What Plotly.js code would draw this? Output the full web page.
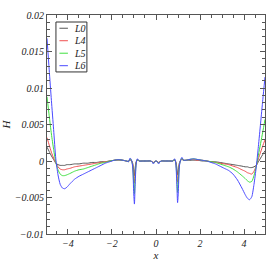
<!DOCTYPE html>
<html>
<head>
<meta charset="utf-8">
<script src="https://cdn.plot.ly/plotly-3.0.1.min.js"></script>
<style>html,body{margin:0;padding:0;background:#fff;}#chart{width:279px;height:267px;}</style>
</head>
<body>
<div id="chart"></div>
<script>
const xs = [-4.95,-4.85,-4.75,-4.65,-4.55,-4.45,-4.35,-4.25,-4.15,-4.05,-3.9,-3.7,-3.5,-3.3,-3.1,-2.9,-2.7,-2.5,-2.3,-2.1,
  -1.9,-1.7,-1.5,-1.35,-1.25,-1.18,-1.12,-1.06,-1.01,-0.98,-0.95,-0.9,-0.85,-0.75,-0.6,-0.4,-0.25,-0.18,-0.12,-0.06,0,
  0.06,0.12,0.18,0.25,0.4,0.6,0.75,0.85,0.9,0.95,0.98,1.01,1.06,1.12,1.18,1.25,1.35,1.5,1.7,1.9,
  2.1,2.3,2.5,2.7,2.9,3.1,3.3,3.5,3.7,3.9,4.05,4.15,4.25,4.35,4.45,4.55,4.65,4.75,4.85,4.95];

const L0 = [0.0019,0.0013,0.0007,0.0002,-0.0003,-0.0005,-0.0006,-0.0006,-0.0006,-0.0005,-0.0005,-0.0004,-0.0004,-0.0003,-0.0003,-0.0002,-0.0002,-0.0001,-0.0001,0,
  0.0001,0.0001,0.0001,0,0,0.0001,0.0001,-0.0003,-0.0014,-0.0020,-0.0010,-0.0001,0.0001,0,0,0,0,-0.0001,-0.0002,-0.0001,0,
  -0.0001,-0.0002,-0.0001,0,0,0,0,0.0001,-0.0001,-0.0010,-0.0019,-0.0014,-0.0003,0.0001,0.0002,0.0001,0.0001,0.0001,0.0001,0.0001,
  0,0,-0.0001,-0.0001,-0.0002,-0.0003,-0.0004,-0.0005,-0.0006,-0.0007,-0.0008,-0.0008,-0.0009,-0.0009,-0.0008,-0.0006,-0.0001,0.0004,0.0009,0.0014];

const L4 = [0.0032,0.0022,0.0012,0.0004,-0.0003,-0.0008,-0.0011,-0.0012,-0.0012,-0.0011,-0.0010,-0.0008,-0.0007,-0.0006,-0.0005,-0.0004,-0.0003,-0.0002,-0.0001,0,
  0.0001,0.0002,0.0001,0,-0.0001,0.0002,0.0001,-0.0004,-0.0022,-0.0030,-0.0016,-0.0002,0.0002,0,0,0,0,-0.0001,-0.0002,-0.0001,0,
  -0.0001,-0.0002,-0.0001,0,0,0,0,0.0002,-0.0002,-0.0016,-0.0029,-0.0022,-0.0004,0.0001,0.0003,0.0001,0.0001,0.0002,0.0002,0.0001,
  0.0001,0,-0.0001,-0.0002,-0.0003,-0.0004,-0.0005,-0.0007,-0.0009,-0.0012,-0.0014,-0.0016,-0.0017,-0.0018,-0.0014,-0.0007,0.0003,0.0012,0.0021,0.0029];

const L5 = [0.0088,0.0062,0.0037,0.0016,-0.0002,-0.0012,-0.0018,-0.0020,-0.0020,-0.0019,-0.0017,-0.0014,-0.0012,-0.0011,-0.0009,-0.0007,-0.0005,-0.0003,-0.0002,0,
  0.0001,0.0002,0.0001,0,-0.0001,0.0003,0.0001,-0.0006,-0.0033,-0.0045,-0.0025,-0.0003,0.0002,0,0,0,0,-0.0001,-0.0003,-0.0001,0,
  -0.0001,-0.0003,-0.0001,0,0,0,0,0.0002,-0.0003,-0.0025,-0.0043,-0.0033,-0.0006,0.0001,0.0004,0.0001,0.0001,0.0002,0.0003,0.0002,
  0.0001,0,-0.0001,-0.0002,-0.0004,-0.0006,-0.0008,-0.0011,-0.0015,-0.0020,-0.0024,-0.0027,-0.0029,-0.0028,-0.0020,-0.0008,0.0008,0.0024,0.0040,0.0057];

const L6 = [0.0168,0.0125,0.0083,0.0043,0.0003,-0.0019,-0.0032,-0.0037,-0.0038,-0.0036,-0.0031,-0.0025,-0.0021,-0.0018,-0.0015,-0.0012,-0.0009,-0.0006,-0.0003,-0.0001,
  0.0001,0.0002,0.0001,0,-0.0001,0.0004,0.0002,-0.0008,-0.0045,-0.0059,-0.0035,-0.0004,0.0003,0,0,0,0,-0.0001,-0.0004,-0.0001,0,
  -0.0001,-0.0004,-0.0001,0,0,0,0,0.0003,-0.0004,-0.0035,-0.0057,-0.0045,-0.0008,0.0002,0.0005,0.0001,0.0001,0.0002,0.0003,0.0002,
  0.0001,0,-0.0002,-0.0004,-0.0007,-0.0010,-0.0013,-0.0018,-0.0026,-0.0037,-0.0046,-0.0051,-0.0053,-0.0049,-0.0032,-0.0009,0.0020,0.0052,0.0084,0.0115];

const names = ['L0','L4','L5','L6'];
const series = [L0, L4, L5, L6];
const colors = ['#555555','#f05050','#40e040','#4a4aff'];

const traces = series.map((ys, i) => ({
  x: xs, y: ys, name: names[i], type: 'scatter', mode: 'lines',
  line: {color: colors[i], width: 1, shape: 'spline', smoothing: 0.6}
}));

const fam = 'Liberation Serif, Times New Roman, serif';
const tf = {family: fam, size: 10, style: 'italic', color: '#222'};

// compact legend (box, short line samples, labels) in paper coordinates
const lgX0 = 0.041, lgX1 = 0.183, lgY1 = 0.968, lgY0 = 0.740;
const rowH = (lgY1 - lgY0) / names.length;
const shapes = [{type: 'rect', xref: 'paper', yref: 'paper', x0: lgX0, x1: lgX1, y0: lgY0, y1: lgY1,
  line: {color: '#333', width: 1}, fillcolor: '#fff', layer: 'above'}];
const annotations = [];
names.forEach((n, i) => {
  const yc = lgY1 - rowH * (i + 0.5);
  shapes.push({type: 'line', xref: 'paper', yref: 'paper', x0: lgX0 + 0.016, x1: lgX0 + 0.055, y0: yc, y1: yc,
    line: {color: colors[i], width: 1}, layer: 'above'});
  annotations.push({xref: 'paper', yref: 'paper', x: lgX0 + 0.072, y: yc, xanchor: 'left', yanchor: 'middle',
    text: n, showarrow: false, font: {family: fam, size: 10, style: 'italic', color: '#222'}});
});

const axisCommon = {
  ticks: 'inside', ticklen: 5, tickwidth: 1, tickcolor: '#555',
  showline: true, linecolor: '#555', linewidth: 1, mirror: 'ticks',
  zeroline: false, showgrid: false, tickfont: tf
};

const layout = {
  width: 279, height: 267,
  margin: {l: 47, r: 14, t: 15, b: 33},
  paper_bgcolor: '#fff', plot_bgcolor: '#fff',
  showlegend: false,
  shapes: shapes,
  annotations: annotations,
  xaxis: Object.assign({}, axisCommon, {
    range: [-4.95, 4.95], tick0: 0, dtick: 2,
    minor: {dtick: 0.5, ticks: 'inside', ticklen: 3, tickcolor: '#555', showgrid: false},
    title: {text: 'x', font: {family: fam, size: 11, style: 'italic', color: '#222'}, standoff: 3}
  }),
  yaxis: Object.assign({}, axisCommon, {
    range: [-0.01, 0.02], tick0: 0, dtick: 0.005,
    minor: {dtick: 0.001, ticks: 'inside', ticklen: 3, tickcolor: '#555', showgrid: false},
    title: {text: 'H', font: {family: fam, size: 11, style: 'italic', color: '#222'}, standoff: 2}
  })
};

Plotly.newPlot('chart', traces, layout, {staticPlot: true, displayModeBar: false});
</script>
</body>
</html>
